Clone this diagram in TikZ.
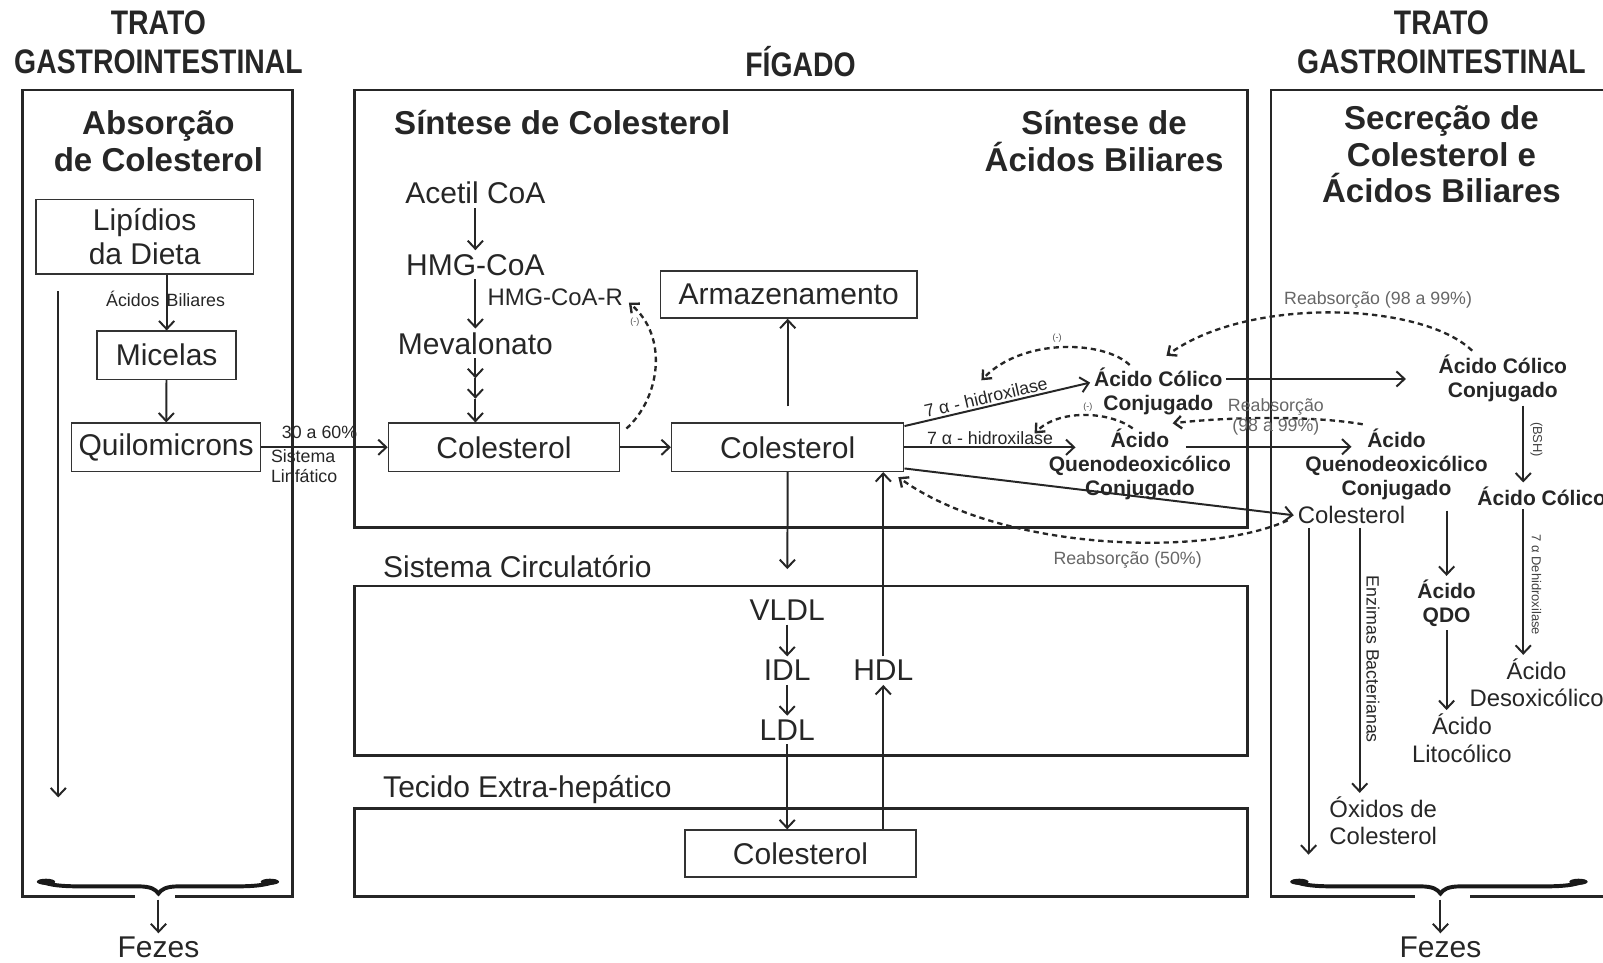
\documentclass[tikz,border=0pt]{standalone}
\usepackage{fontspec}
\setmainfont{Liberation Sans}
\usepackage{graphicx}
\usepackage{tikz}
\usetikzlibrary{positioning, arrows.meta, calc}
\tikzset{
  titulo/.style={font=\bfseries\fontsize{15.8}{18}\selectfont, text=black!85, inner sep=1pt},
  cabec/.style={font=\bfseries\fontsize{18.4}{20.3}\selectfont, align=center, text=black!85, inner sep=1pt},
  texto/.style={font=\fontsize{16.7}{18.7}\selectfont, align=center, text=black!85, inner sep=2pt},
  medio/.style={font=\fontsize{13.3}{15.2}\selectfont, align=center, text=black!85, inner sep=2pt},
  negrito/.style={font=\bfseries\fontsize{11.7}{13.3}\selectfont, align=center, text=black!85, inner sep=2pt},
  pequena/.style={font=\fontsize{9.9}{11}\selectfont, text=black!85, inner sep=1pt},
  cinza/.style={font=\fontsize{9.9}{11.2}\selectfont, text=black!60, align=center, inner sep=1pt},
  minima/.style={font=\fontsize{7.2}{8}\selectfont, text=black!75, inner sep=1pt},
  inib/.style={font=\fontsize{5}{6}\selectfont, text=black!70, inner sep=0pt},
  caixa/.style={texto, draw=black!80, line width=0.85pt, inner sep=1pt},
  regiao/.style={draw=black!85, line width=1.4pt},
  seta/.style={draw=black!85, line width=1.1pt, -{Straight Barb[length=4.5pt,width=8.5pt]}},
  tracejado/.style={draw=black!85, line width=1.3pt, dash pattern=on 3pt off 2.2pt, -{Straight Barb[length=4pt,width=7pt]}},
  chave/.style={draw=black!90, line width=2.2pt, line cap=round}
}
\newcommand{\alto}[1]{\scalebox{1}[1.2]{#1}}
% chave horizontal: esquerda, ponta, direita
\newcommand{\chavefezes}[3]{
    \draw[chave] (#1,862) .. controls ({#1+11},866) and ({#1+21},867) .. ({#1+41},867)
        -- ({#2-20},867) .. controls ({#2-7},867) and ({#2-3},870) .. (#2,874)
        .. controls ({#2+3},870) and ({#2+7},867) .. ({#2+20},867)
        -- ({#3-41},867) .. controls ({#3-21},867) and ({#3-11},866) .. (#3,862);
    \fill[black!90] ({#1+6},862.5) ellipse [x radius=9, y radius=3];
    \fill[black!90] ({#3-6},862.5) ellipse [x radius=9, y radius=3];
}

\begin{document}
\begin{tikzpicture}[x=0.02cm, y=-0.02cm]
    \useasboundingbox (0,0) rectangle (1568,941);

    % -------------------------------------------------------------
    % TITULOS Y REGIONES
    % -------------------------------------------------------------
    \node[titulo] (trato1) at (155,22) {\alto{TRATO}};
    \node[titulo] (gastro1) at (155,60) {\alto{GASTROINTESTINAL}};
    \node[titulo] (figado) at (783,60) {\alto{FÍGADO}};
    \node[titulo] (trato2) at (1410,22) {\alto{TRATO}};
    \node[titulo] (gastro2) at (1410,60) {\alto{GASTROINTESTINAL}};

    \draw[regiao] (132,877) -- (22,877) -- (22,88) -- (286,88) -- (286,877) -- (171,877);
    \draw[regiao] (347,88) rectangle (1220,516);
    \draw[regiao] (347,573) rectangle (1220,739);
    \draw[regiao] (347,791) rectangle (1220,877);
    \draw[regiao] (1384,877) -- (1243,877) -- (1243,88) -- (1568,88);
    \draw[regiao] (1438,877) -- (1568,877);

    % ================= ABSORCION =================
    \node[cabec] (absorcao) at (155,138) {Absorção\\de Colesterol};
    \node[caixa, minimum width=4.26cm, minimum height=1.46cm] (lipidios) at (141.5,231.5) {Lipídios\\da Dieta};
    \node[caixa, minimum width=2.72cm, minimum height=0.94cm] (micelas) at (163,347.5) {Micelas};
    \node[caixa, minimum width=3.70cm, minimum height=0.94cm] (quilo) at (162.5,437.5) {Quilomicrons};

    \draw[seta] (lipidios.south -| micelas.north) -- (micelas.north);
    \node[pequena] (acbil) at (162,292) {Ácidos\hspace{4pt}Biliares};
    \draw[seta] (micelas) -- (quilo);

    \coordinate (esqini) at (57,285);
    \coordinate (esqfim) at (57,780);
    \draw[seta] (esqini) -- (esqfim);

    \chavefezes{39}{155}{270}
    \coordinate (ponta1) at (155,880);
    \node[texto] (fezes1) at (155,927) {Fezes};
    \draw[seta] (ponta1) -- (fezes1);

    % ================= SINTESIS DE COLESTEROL =================
    \node[cabec] (sintcol) at (550,120) {Síntese de Colesterol};
    \node[cabec] (sintac) at (1080,138) {Síntese de\\Ácidos Biliares};

    \node[texto] (acetil) at (465,189) {Acetil CoA};
    \node[texto] (hmg) at (465,259) {HMG-CoA};
    \node[texto] (meval) at (465,336) {Mevalonato};
    \node[medio, anchor=west] (hmgr) at (473,291) {HMG-CoA-R};
    \node[caixa, minimum width=4.52cm, minimum height=0.94cm] (col1) at (493,437.5) {Colesterol};

    \draw[seta] (acetil) -- (hmg);
    \draw[seta] (hmg) -- (meval);
    \coordinate (m1) at (465,370);
    \coordinate (m2) at (465,390);
    \draw[seta] (meval) -- (m1);
    \draw[seta] (m1) -- (m2);
    \draw[seta] (m2) -- (meval |- col1.north);

    \draw[seta] (quilo) -- (col1) node[pos=0.46, above=3pt, pequena] (taxa) {30 a 60\%};
    \node[pequena, align=left, anchor=north west] (linf) at (263,438) {Sistema\\Linfático};

    \draw[tracejado] ($(col1.north east)+(6,6)$) .. controls (645,390) and (655,330) .. ($(hmgr.east)+(2,5)$);
    \node[inib] (inib1) at (621,315) {(-)};

    % ================= COLESTEROL HEPATICO =================
    \node[caixa, minimum width=4.54cm, minimum height=0.94cm] (col2) at (770.5,437.5) {Colesterol};
    \node[caixa, minimum width=5.02cm, minimum height=0.92cm] (armaz) at (771.5,288) {Armazenamento};
    \draw[seta] (col1) -- (col2);
    \draw[seta, shorten <=9pt] (col2.north) -- (col2.north |- armaz.south);

    % ================= CIRCULACION =================
    \node[texto, anchor=west] (sistcirc) at (371,554) {Sistema Circulatório};
    \node[texto, anchor=west] (tecido) at (371,772) {Tecido Extra-hepático};
    \node[texto] (vldl) at (770,597) {VLDL};
    \node[texto] (idl) at (770,656) {IDL};
    \node[texto] (ldl) at (770,714) {LDL};
    \node[texto] (hdl) at (864,656) {HDL};
    \node[caixa, minimum width=4.52cm, minimum height=0.92cm] (col3) at (783,835) {Colesterol};

    \draw[seta, shorten >=15pt] (col2.south) -- (vldl);
    \draw[seta] (vldl) -- (idl);
    \draw[seta] (idl) -- (ldl);
    \draw[seta] (ldl) -- (ldl |- col3.north);
    \draw[seta] (col3.north -| hdl) -- (hdl);
    \draw[seta] (hdl) -- (hdl |- col2.south);

    % ================= ACIDOS BILIARES =================
    \node[negrito] (accol) at (1133,383) {Ácido Cólico\\Conjugado};
    \node[negrito] (acq) at (1115,454) {Ácido\\Quenodeoxicólico\\Conjugado};
    \node[medio] (colR) at (1322,504) {Colesterol};

    \draw[seta] ([yshift=-2pt]col2.north east) -- ([yshift=5pt]accol.west)
        node[pos=0.45, above, sloped, pequena] (hidrox1) {7 α - hidroxilase};
    \draw[seta] (col2.east) -- ($(acq.west |- col2.east)+(30,0)$)
        node[midway, above, pequena] (hidrox2) {7 α - hidroxilase};
    \draw[seta] ([yshift=2pt]col2.south east) -- (colR.west);

    \coordinate (inib2fim) at (960,372);
    \draw[tracejado] ($(accol.center)+(-28,-26)$) .. controls (1080,333) and (1000,330) .. (inib2fim);
    \node[inib] (inib2) at (1034,331) {(-)};
    \coordinate (inib3fim) at (1012,424);
    \draw[tracejado] ($(acq.center)+(-7,-35)$) .. controls (1085,402) and (1035,400) .. (inib3fim);
    \node[inib] (inib3) at (1064,398) {(-)};

    % ================= SECRECION =================
    \node[cabec] (secrecao) at (1410,151) {Secreção de\\Colesterol e\\Ácidos Biliares};
    \node[negrito] (accolR) at (1470,370) {Ácido Cólico\\Conjugado};
    \node[negrito] (acqR) at (1366,454) {Ácido\\Quenodeoxicólico\\Conjugado};
    \node[negrito] (acolico) at (1508,485) {Ácido Cólico};
    \node[negrito] (qdo) at (1415,590) {Ácido\\QDO};
    \node[medio] (lito) at (1430,722) {Ácido\\Litocólico};
    \node[medio] (desoxi) at (1503,668) {Ácido\\Desoxicólico};
    \node[medio] (oxidos) at (1353,803) {Óxidos de\\Colesterol};

    \coordinate (c1) at ([yshift=7pt]accol.east);
    \draw[seta, shorten >=16pt] (c1) -- (c1 -| accolR.west);
    \coordinate (q1) at ($(acq.center)+(45,-17)$);
    \draw[seta] (q1) -- ($(q1 -| acqR.center)+(-44,0)$);

    % Reabsorciones
    \coordinate (reab1fim) at (1141,348);
    \draw[tracejado] ($(accolR.center)+(-30,-27)$) .. controls (1390,295) and (1220,290) .. (reab1fim);
    \node[cinza] (reab1) at (1348,293) {Reabsorção (98 a 99\%)};
    \coordinate (reab2fim) at (1147,414);
    \draw[tracejado] ($(acqR.center)+(-33,-39)$) .. controls (1280,406) and (1200,408) .. (reab2fim);
    \node[cinza] (reab2) at (1248,408) {Reabsorção\\(98 a 99\%)};
    \draw[tracejado] ($(colR.west)+(-6,5)$) .. controls (1180,545) and (980,540) .. ($(col2.south east)+(-6,5)$);
    \node[cinza] (reab3) at (1103,548) {Reabsorção (50\%)};

    % Transformaciones bacterianas
    \coordinate (xbsh) at (1490,0);
    \draw[seta] (accolR.south -| xbsh) -- (acolico.north -| xbsh);
    \node[minima, rotate=-90] (bsh) at (1503,430) {(BSH)};
    \draw[seta] (acolico.south -| xbsh) -- (desoxi.north -| xbsh);
    \node[minima, rotate=-90] (dehid) at (1503,572) {7 α Dehidroxilase};

    \draw[seta, shorten <=4pt] (acqR.south -| qdo.north) -- (qdo.north);
    \draw[seta] (qdo.south) -- (qdo.south |- lito.north);

    \coordinate (xenz) at (1330,0);
    \draw[seta] (colR.south -| xenz) -- (oxidos.north -| xenz);
    \node[pequena, rotate=-90] (enzimas) at (1343,645) {Enzimas Bacterianas};

    \coordinate (xlong) at (1280,0);
    \coordinate (colfim) at (1280,836);
    \draw[seta] (colR.south -| xlong) -- (colfim);

    \chavefezes{1265}{1409}{1550}
    \coordinate (ponta2) at (1409,880);
    \node[texto] (fezes2) at (1409,927) {Fezes};
    \draw[seta] (ponta2) -- (fezes2);

\end{tikzpicture}
\end{document}
